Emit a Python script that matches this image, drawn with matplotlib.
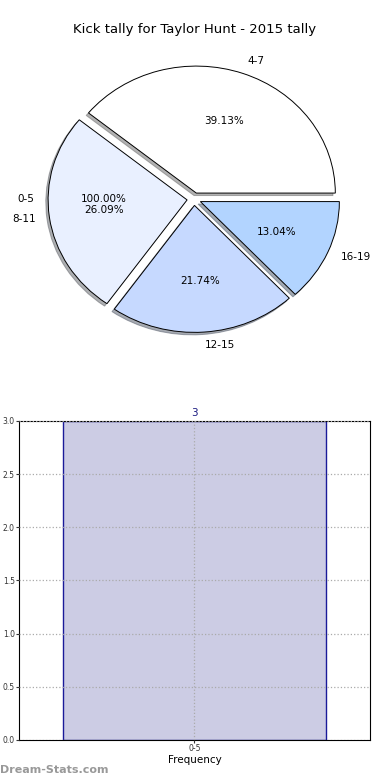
import matplotlib
matplotlib.use("Agg")
import matplotlib.pyplot as plt

# pie data (kick distance buckets)
pie_labels = ["4-7", "8-11", "12-15", "16-19"]
pie_values = [9, 6, 5, 3]
pie_colors = ["#ffffff", "#e9f0ff", "#c6d9ff", "#b2d4ff"]

# overlaid single-bucket pie and bar data
bar_labels = ["0-5"]
bar_values = [3]

fig = plt.figure(figsize=(3.9, 7.8), dpi=100)

# --- pie ---
ax1 = fig.add_axes([0.0519, 0.5413, 0.891, 0.407])
wedges, texts, autotexts = ax1.pie(
    pie_values, labels=pie_labels, colors=pie_colors, autopct="%.2f%%",
    explode=[0.05] * len(pie_values),
    shadow=dict(ox=-0.012, oy=-0.014, shade=0.6), startangle=0,
    wedgeprops=dict(edgecolor="black", linewidth=0.7),
    textprops=dict(fontsize=7.5))
# second (invisible) pie carrying the 0-5 label
ax1.pie(bar_values, labels=bar_labels, autopct="%.2f%%", startangle=0,
        explode=[0.05],
        wedgeprops=dict(fill=False, linewidth=0),
        textprops=dict(fontsize=7.5))
ax1.set_aspect("auto")
ax1.set_xlim(-1.25, 1.25)
ax1.set_ylim(-1.25, 1.25)

fig.text(0.5, 1 - 30 / 780, "Kick tally for Taylor Hunt - 2015 tally",
         ha="center", va="center", fontsize=9.5)

# --- bar chart ---
ax2 = fig.add_axes([0.0487, 0.0513, 0.9, 0.409])
bars = ax2.bar(range(len(bar_values)), bar_values, width=0.8,
               color="#ccccE4", edgecolor="#1a1a99", linewidth=1)
for i, v in enumerate(bar_values):
    ax2.text(i, v + 0.03, str(v), ha="center", va="bottom",
             fontsize=7.5, color="#1a1a80")
ax2.set_xlim(-0.532, 0.532)
ax2.set_ylim(0, 3.0)
ax2.set_yticks([0, 0.5, 1.0, 1.5, 2.0, 2.5, 3.0])
ax2.set_xticks(range(len(bar_labels)))
ax2.set_xticklabels(bar_labels)
ax2.tick_params(labelsize=5.5, length=2, pad=1, colors="#333333")
ax2.grid(True, linestyle=":", color="#aaaaaa", linewidth=0.9)
ax2.set_axisbelow(False)
ax2.set_xlabel("Frequency", fontsize=7.5, labelpad=1)

fig.text(0.0, 1 - 770 / 780, "Dream-Stats.com", ha="left", va="center",
         fontsize=8, color="#999999", fontweight="bold")

fig.savefig("out.png", dpi=100)
